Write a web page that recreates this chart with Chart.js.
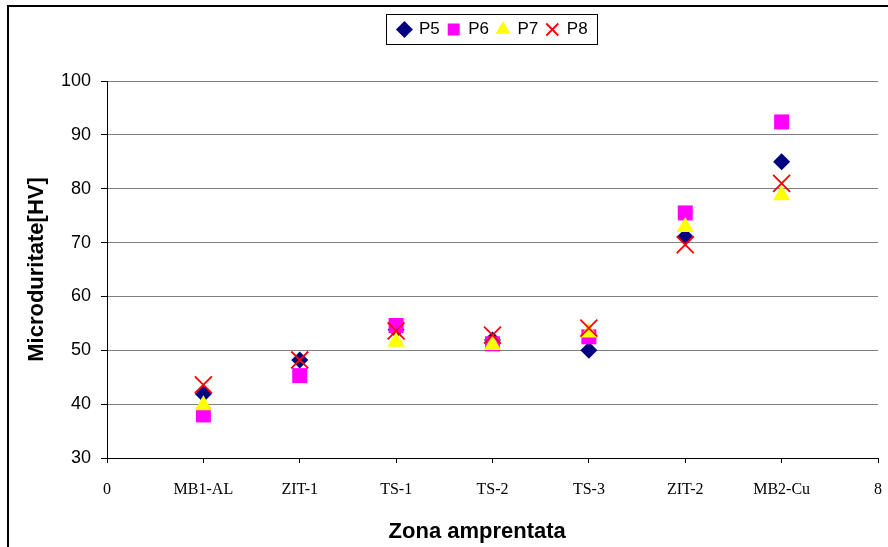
<!DOCTYPE html>
<html>
<head>
<meta charset="utf-8">
<script src="https://cdn.jsdelivr.net/npm/chart.js@4/dist/chart.umd.min.js"></script>
<style>
  html, body { margin: 0; padding: 0; background: #fff; overflow: hidden; }
  #frame { position: absolute; left: 7px; top: 5px; width: 1000px; height: 700px; border: 2px solid #000; }
  #wrap { position: absolute; left: 0; top: 0; width: 888px; height: 547px; }
</style>
</head>
<body>
<div id="frame"></div>
<div id="wrap"><canvas id="hvChart" width="888" height="547"></canvas></div>
<script>
const zones = ['MB1-AL', 'ZIT-1', 'TS-1', 'TS-2', 'TS-3', 'ZIT-2', 'MB2-Cu'];
const p5 = [41.9, 48.2, 53.8, 51.9, 50.0, 71.1, 85.0];
const p6 = [38.0, 45.3, 54.6, 51.2, 52.5, 75.5, 92.4];
const p7 = [39.8, null, 51.6, 51.0, 53.3, 72.9, 78.8];
const p8 = [43.6, 48.2, 53.6, 52.8, 54.1, 69.6, 81.0];
const xLabels = ['0', ...zones, '8'];
const yTicks = [30, 40, 50, 60, 70, 80, 90, 100];

function points(vals) {
  return vals.map((v, i) => ({ x: i + 1, y: v })).filter(p => p.y !== null);
}

// legend sits right of centre and higher than the layout puts it, with a box round it
const legendBox = {
  id: 'legendBox',
  afterLayout(chart) {
    const lg = chart.legend;
    lg.left += 54;
    lg.right += 54;
    lg.top -= 33;
    lg.bottom -= 33;
  },
  afterDraw(chart) {
    const boxes = chart.legend.legendHitBoxes;
    if (!boxes || !boxes.length) return;
    const l = Math.min(...boxes.map(b => b.left));
    const r = Math.max(...boxes.map(b => b.left + b.width));
    const t = Math.min(...boxes.map(b => b.top));
    const b = Math.max(...boxes.map(b => b.top + b.height));
    const ctx = chart.ctx;
    ctx.save();
    ctx.strokeStyle = '#000';
    ctx.lineWidth = 1;
    ctx.strokeRect(Math.round(l - 12) + 0.5, Math.round(t - 7) + 0.5, Math.round(r - l + 22), Math.round(b - t + 13));
    ctx.restore();
  }
};

const ctx = document.getElementById('hvChart').getContext('2d');
new Chart(ctx, {
  type: 'scatter',
  data: {
    // later series are painted over earlier ones (lower order = on top)
    datasets: [
      { label: 'P5', data: points(p5), order: 3, pointStyle: 'rectRot', pointRadius: 8.5, pointHoverRadius: 8.5,
        backgroundColor: '#000080', borderColor: '#000080', borderWidth: 0 },
      { label: 'P6', data: points(p6), order: 2, pointStyle: 'rect', pointRadius: 10.6, pointHoverRadius: 10.6,
        backgroundColor: '#FF00FF', borderColor: '#FF00FF', borderWidth: 0 },
      { label: 'P7', data: points(p7), order: 1, pointStyle: 'triangle', pointRadius: 10, pointHoverRadius: 10,
        backgroundColor: '#FFFF00', borderColor: '#FFFF00', borderWidth: 0 },
      { label: 'P8', data: points(p8), order: 0, pointStyle: 'crossRot', pointRadius: 12, pointHoverRadius: 12,
        backgroundColor: '#FF0000', borderColor: '#FF0000', borderWidth: 1.8 }
    ]
  },
  options: {
    responsive: false,
    animation: false,
    layout: { autoPadding: false, padding: { top: 46, right: 10, left: 0, bottom: 0 } },
    plugins: {
      tooltip: { enabled: false },
      legend: {
        position: 'top',
        labels: {
          usePointStyle: true,
          boxHeight: 12,
          boxWidth: 12,
          padding: 8,
          color: '#000',
          font: { family: 'Arial, "Liberation Sans"', size: 17 },
          sort: (a, b) => a.datasetIndex - b.datasetIndex
        }
      }
    },
    scales: {
      x: {
        type: 'linear',
        min: 0,
        max: 8,
        afterFit(scale) { scale.height = 89; scale.paddingRight = 0; },
        afterBuildTicks(scale) { scale.ticks = xLabels.map((_, i) => ({ value: i })); },
        ticks: {
          autoSkip: false,
          maxRotation: 0,
          padding: 17,
          color: '#000',
          font: { family: '"Times New Roman", "Liberation Serif"', size: 16 },
          callback: v => xLabels[v]
        },
        grid: { drawOnChartArea: false, drawTicks: true, tickLength: 5, tickColor: '#000' },
        border: { color: '#000', width: 1 },
        title: {
          display: true,
          text: 'Zona amprentata\u00a0\u00a0\u00a0\u00a0\u00a0',
          color: '#000',
          font: { family: 'Arial, "Liberation Sans"', size: 22, weight: 'bold' },
          padding: { top: 2, bottom: 2 }
        }
      },
      y: {
        min: 30,
        max: 100,
        afterFit(scale) { scale.width = 107; },
        afterBuildTicks(scale) { scale.ticks = yTicks.map(v => ({ value: v })); },
        ticks: {
          padding: 10,
          color: '#000',
          font: { family: 'Arial, "Liberation Sans"', size: 18 }
        },
        grid: { color: '#808080', lineWidth: 1, tickLength: 6, tickColor: '#000' },
        border: { color: '#000', width: 1 },
        title: {
          display: true,
          text: 'Microduritate[HV]',
          color: '#000',
          font: { family: 'Arial, "Liberation Sans"', size: 22, weight: 'bold' },
          padding: { top: 24, bottom: 0 }
        }
      }
    }
  },
  plugins: [legendBox]
});
</script>
</body>
</html>
